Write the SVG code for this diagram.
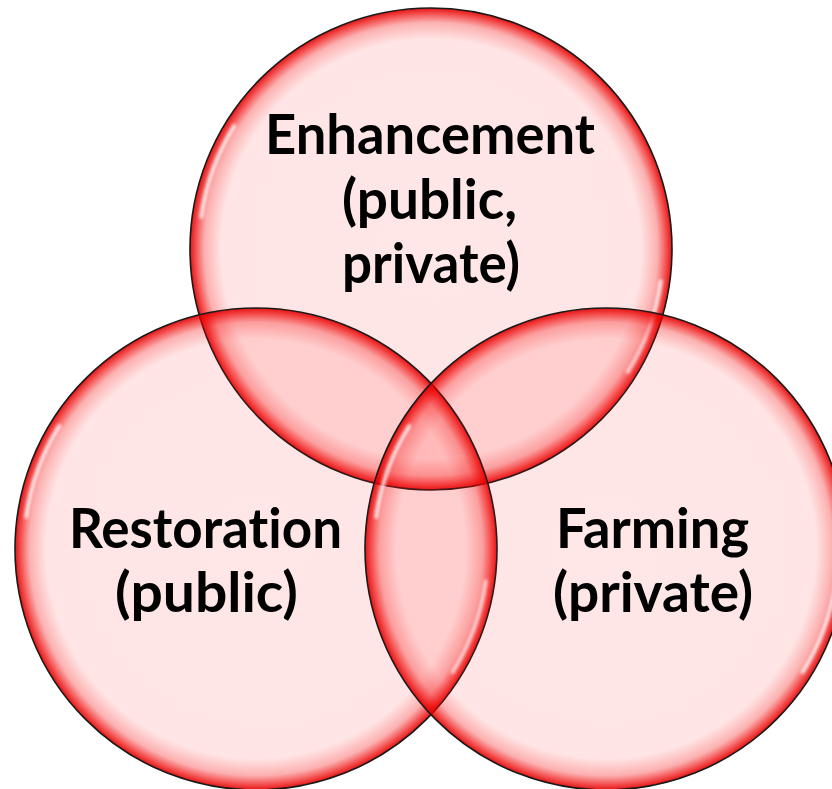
<svg xmlns="http://www.w3.org/2000/svg" width="832" height="789" viewBox="0 0 832 789">
  <defs>
    <radialGradient id="bubble" cx="0.5" cy="0.5" r="0.5">
      <stop offset="0" stop-color="#ff1010" stop-opacity="0.10"/>
      <stop offset="0.87" stop-color="#ff1010" stop-opacity="0.11"/>
      <stop offset="0.94" stop-color="#f40808" stop-opacity="0.32"/>
      <stop offset="0.978" stop-color="#ee0000" stop-opacity="0.7"/>
      <stop offset="1" stop-color="#e00000" stop-opacity="0.92"/>
    </radialGradient>
    <filter id="soft" x="-20%" y="-20%" width="140%" height="140%">
      <feGaussianBlur stdDeviation="1.5"/>
    </filter>
  </defs>
  <style>
    .circle { fill: url(#bubble); stroke: #1a1a1a; stroke-width: 1.6; }
    .shine { fill: none; stroke: #ffffff; stroke-width: 4; stroke-linecap: round; stroke-opacity: 0.8; filter: url(#soft); }
    .label { font-family: "Lato", "Open Sans", "Liberation Sans", sans-serif; font-weight: 700; font-size: 55px; fill: #000000; text-anchor: start; font-variant-ligatures: none; }
  </style>
  <rect width="832" height="789" fill="#ffffff"/>

  <g id="enhancement">
    <circle class="circle" cx="431" cy="249" r="241"/>
    <path class="shine" d="M 201.3 216.7 A 232 232 0 0 1 234.3 126.1"/>
    <path class="shine" d="M 660.7 281.3 A 232 232 0 0 1 627.7 371.9"/>
    <text class="label">
      <tspan x="265" y="154" textLength="330" lengthAdjust="spacingAndGlyphs">Enhancement</tspan>
      <tspan x="342" y="219" textLength="175" lengthAdjust="spacingAndGlyphs">(public,</tspan>
      <tspan x="342" y="283" textLength="178" lengthAdjust="spacingAndGlyphs">private)</tspan>
    </text>
  </g>

  <g id="restoration">
    <circle class="circle" cx="256" cy="549" r="241"/>
    <path class="shine" d="M 26.3 516.7 A 232 232 0 0 1 59.3 426.1"/>
    <path class="shine" d="M 485.7 581.3 A 232 232 0 0 1 452.7 671.9"/>
    <text class="label">
      <tspan x="69" y="548" textLength="273" lengthAdjust="spacingAndGlyphs">Restoration</tspan>
      <tspan x="115" y="612" textLength="183" lengthAdjust="spacingAndGlyphs">(public)</tspan>
    </text>
  </g>

  <g id="farming">
    <circle class="circle" cx="606" cy="549" r="241"/>
    <path class="shine" d="M 376.3 516.7 A 232 232 0 0 1 409.3 426.1"/>
    <path class="shine" d="M 835.7 581.3 A 232 232 0 0 1 802.7 671.9"/>
    <text class="label">
      <tspan x="556" y="548" textLength="193" lengthAdjust="spacingAndGlyphs">Farming</tspan>
      <tspan x="553" y="612" textLength="200" lengthAdjust="spacingAndGlyphs">(private)</tspan>
    </text>
  </g>

  <g id="connectors"/>
</svg>
